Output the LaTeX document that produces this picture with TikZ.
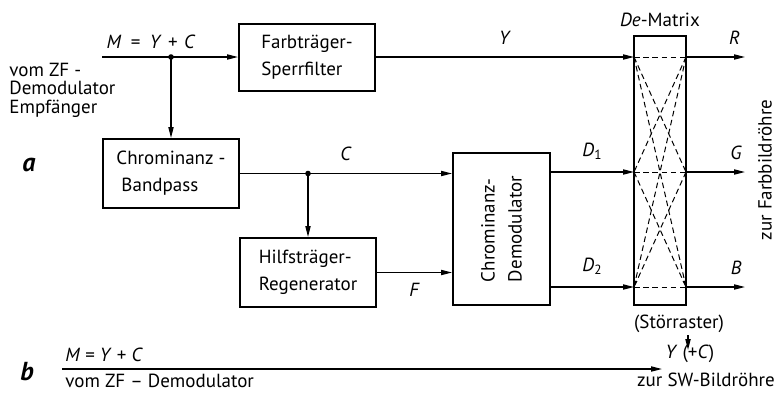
\documentclass[tikz,border=0pt]{standalone}
\usepackage{fontspec}
\setmainfont{PT Sans}
\usetikzlibrary{arrows.meta,positioning,calc}
\tikzset{
  blk/.style   = {rectangle, draw, line width=1pt, align=left, inner sep=2pt,
                  font=\fontsize{9.5}{13.5}\selectfont},
  flow/.style  = {-{Triangle[length=5.5pt,width=2.6pt]}, line width=0.65pt},
  mx/.style    = {dash pattern=on 2.8pt off 1.8pt, line width=0.5pt},
  mxflow/.style = {mx, -{Triangle[length=3.2pt,width=1.8pt]}},
  lbl/.style   = {font=\fontsize{9.5}{9.2}\selectfont, inner sep=1pt},
  dot/.style   = {circle, fill, inner sep=0pt, minimum size=2.8pt},
  part/.style  = {font=\fontsize{13}{13}\selectfont\bfseries\itshape},
}
\newcommand{\sym}[1]{\textit{#1}}

\begin{document}
\begin{tikzpicture}[x=0.5pt, y=-0.5pt]
\useasboundingbox (0,0) rectangle (779,392);
% part a: blocks
\node[blk, minimum width=68pt, minimum height=33.5pt] (fts) at (307,57) {Farbträger-\\Sperrfilter};
\node[blk, minimum width=68pt, minimum height=34.5pt] (bp) at (171,173.5) {Chrominanz -\\\hspace{2.5pt}Bandpass};
\node[blk, minimum width=68pt, minimum height=34.5pt] (hr) at (308,272.5) {Hilfsträger-\\Regenerator};
\node[blk, rotate=90, minimum width=76pt, minimum height=48.5pt] (dem) at (501.5,229) {Chrominanz-\\Demodulator};
\node[blk, minimum width=26pt, minimum height=134.5pt] (mat) at (660,170.5) {};
\node[lbl, above=3pt of mat] (dmx) {\sym{De}-Matrix};

% ports of the matrix
\coordinate (mL1) at (634,57);  \coordinate (mR1) at (686,57);
\coordinate (mL2) at (634,172); \coordinate (mR2) at (686,172);
\coordinate (mL3) at (634,287); \coordinate (mR3) at (686,287);
\coordinate (oR) at (745,57); \coordinate (oG) at (745,172); \coordinate (oB) at (745,287);

% input
\coordinate (in) at (102,57);
\coordinate (j1) at (171,57);
\coordinate (j2) at (308,173.5);
\node[lbl] (meq) at (151,42) {\sym{M}\enspace=\enspace\sym{Y}\,\,+\,\,\sym{C}};
\node[lbl, align=left, anchor=west] (src) at (7,90) {vom ZF -\\Demodulator\\Empfänger};
\node[part] (pa) at (29,165) {a};

\draw[flow] (in) -- (fts);
\draw[flow] (j1) -- (bp);
\draw[flow] (fts) -- node[lbl, above=5pt] {\sym{Y}} (mL1);
\draw[flow] (bp) -- node[lbl, above=5pt] {\sym{C}} (bp -| dem.north);
\draw[flow] (j2) -- (hr);
\draw[flow] (hr) -- node[lbl, below=4pt] {\sym{F}} (hr -| dem.north);
\draw[flow] (dem.south |- mL2) -- node[lbl, above=5pt] {\sym{D}\textsubscript{1}} (mL2);
\draw[flow] (dem.south |- mL3) -- node[lbl, above=5pt] {\sym{D}\textsubscript{2}} (mL3);
\node[dot] at (j1) {};
\node[dot] at (j2) {};

% outputs
\draw[flow] (mR1) -- node[lbl, above=5pt, pos=0.82] {\sym{R}} (oR);
\draw[flow] (mR2) -- node[lbl, above=5pt, pos=0.85] {\sym{G}} (oG);
\draw[flow] (mR3) -- node[lbl, above=5pt, pos=0.85] {\sym{B}} (oB);
\node[lbl, rotate=90] (fbr) at (765,170) {zur Farbbildröhre};

% matrix inside
\foreach \i in {1,2,3} \draw[mx] (mL\i) -- (mR\i);
\draw[mx] (mL1) -- (mR2);
\draw[mx] (mL2) -- (mR3);
\draw[mx] (mR1) -- (mL2);
\draw[mx] (mR2) -- (mL3);
\draw[mxflow] (mL1) -- (mR3);
\draw[mxflow] (mR1) -- (mL3);

% part b
\node[part] (pb) at (27,372) {b};
\coordinate (bin) at (62,369);
\coordinate (bout) at (662,369);
\draw[flow] (bin) -- (bout);
\node[lbl, anchor=west] (bm) at (63,355) {\sym{M} = \sym{Y} + \sym{C}};
\node[lbl, anchor=west] (bsrc) at (63,381) {vom ZF -- Demodulator};
\node[lbl] (st) at (679,324) {(Störraster)};
\node[lbl] (yc) at (690,354) {\sym{Y} (+\sym{C})};
\node[lbl] (sw) at (706,380) {zur SW-Bildröhre};
\coordinate (yplus) at (688,350);
\draw[flow] (st.south -| yplus) -- (yplus);
\end{tikzpicture}
\end{document}
